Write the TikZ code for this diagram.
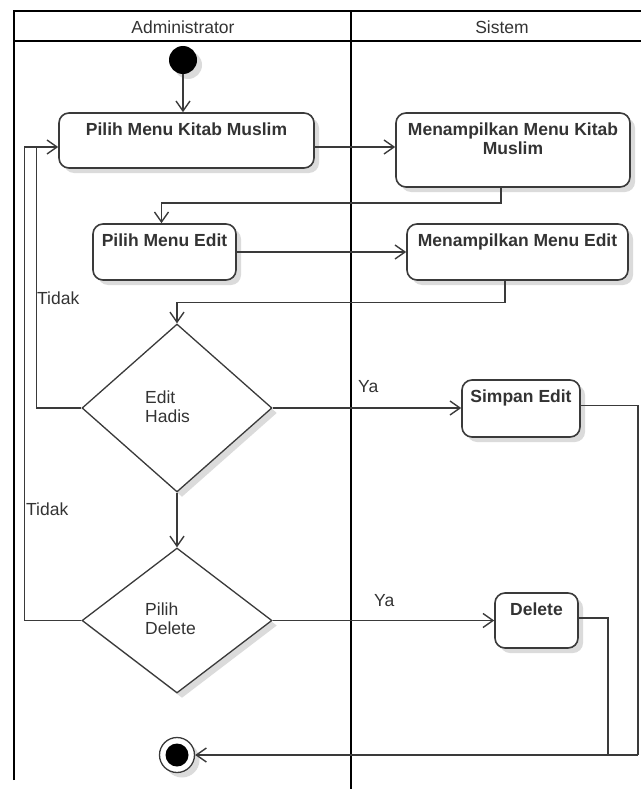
\documentclass[tikz,border=0pt]{standalone}
\usepackage{fontspec}
\setmainfont{Liberation Sans}
\usetikzlibrary{arrows.meta,shapes.geometric,shadows,calc}
\definecolor{ink}{HTML}{3A3A3A}
\definecolor{txt}{HTML}{333333}
\begin{document}
\begin{tikzpicture}[x=1pt,y=-1pt,
  frame/.style={line width=2.4pt, draw=black},
  softshadow/.style={drop shadow={shadow xshift=5pt, shadow yshift=-5pt, fill=black!14, opacity=1}},
  actbox/.style={draw=ink, line width=1.6pt, rounded corners=10pt, fill=white, softshadow, inner sep=0pt},
  choice/.style={diamond, draw=ink, line width=1.3pt, fill=white, softshadow, inner sep=0pt},
  acttext/.style={font=\fontsize{17.5}{19}\selectfont\bfseries, text=txt, inner sep=0pt, anchor=north, align=center},
  plain/.style={font=\fontsize{17.5}{19}\selectfont, text=txt, inner sep=0pt},
  flow/.style={draw=ink, line width=1.4pt, -{Straight Barb[length=10pt,width=14pt]}},
  link/.style={draw=ink, line width=1.4pt},
]
\useasboundingbox (0,0) rectangle (641,789);

% swimlane frame
\draw[frame] (14,780) -- (14,11) -- (641,11);
\draw[frame] (14,41) -- (641,41);
\draw[frame] (351,11) -- (351,789);
\node[plain, anchor=base] (lane1) at (183,34) {Administrator};
\node[plain, anchor=base] (lane2) at (502,34) {Sistem};

% start and end
\node[circle, fill=black, minimum size=28pt, inner sep=0pt, softshadow] (start) at (183,60) {};
\node[circle, draw=ink, line width=1.3pt, fill=white, minimum size=35pt, inner sep=0pt, softshadow] (fin) at (177,755) {};
\fill[black] (fin.center) circle (11.5pt);

% activities
\node[actbox, minimum width=255pt, minimum height=55pt] (A) at (186.5,140.5) {};
\node[acttext] (At) at ([yshift=-10.5pt]A.north) {Pilih Menu Kitab Muslim};
\node[actbox, minimum width=234pt, minimum height=74pt] (B) at (513,150) {};
\node[acttext] (Bt) at ([yshift=-10.5pt]B.north) {Menampilkan Menu Kitab\\Muslim};
\node[actbox, minimum width=143pt, minimum height=56pt] (C) at (164.5,252) {};
\node[acttext] (Ct) at ([yshift=-10.5pt]C.north) {Pilih Menu Edit};
\node[actbox, minimum width=221pt, minimum height=56pt] (D) at (517.5,252) {};
\node[acttext] (Dt) at ([yshift=-10.5pt]D.north) {Menampilkan Menu Edit};
\node[actbox, minimum width=118pt, minimum height=57pt] (E) at (521,408.5) {};
\node[acttext] (Et) at ([yshift=-10.5pt]E.north) {Simpan Edit};
\node[actbox, minimum width=83pt, minimum height=55pt] (F) at (536.5,620.5) {};
\node[acttext] (Ft) at ([yshift=-10.5pt]F.north) {Delete};

% decisions
\node[choice, minimum width=190pt, minimum height=168pt] (d1) at (177,408) {};
\node[plain, anchor=north west, align=left] (d1t) at (145,390.5) {Edit\\Hadis};
\node[choice, minimum width=190pt, minimum height=145pt] (d2) at (177,620.5) {};
\node[plain, anchor=north west, align=left] (d2t) at (145,603) {Pilih\\Delete};

% junction points of the return lines
\coordinate (aIn) at ([yshift=-6.5pt]A.west);
\coordinate (rr) at (638,755);
\coordinate (jn) at (608,755);

% flows
\draw[flow] (start) -- (start |- A.north);
\draw[flow] ([yshift=-6.5pt]A.east) -- ([yshift=-6.5pt]A.east -| B.west);
\draw[flow] ([xshift=-12pt]B.south) -- ++(0,15) -| ([xshift=-3pt]C.north);
\draw[flow] (C.east) -- (D.west);
\draw[flow] ([xshift=-12.5pt]D.south) -- ++(0,21.5) -| (d1.north);
\draw[flow] (d1.east) -- (d1.east -| E.west);
\draw[flow] (d1.south) -- (d2.north);
\draw[flow] (d2.east) -- (d2.east -| F.west);
\draw[flow] (d1.west) -| ([xshift=-22pt]aIn) -- (aIn);
\draw[link] (d2.west) -| ([xshift=-34pt]aIn) -- ([xshift=-22pt]aIn);
\draw[link] ([yshift=3pt]E.east) -| (rr);
\draw[link] ([yshift=2.5pt]F.east) -| (jn);
\draw[flow] (rr) -- (fin.east);

% guard labels
\node[plain, anchor=base west] (g1) at (37,304) {Tidak};
\node[plain, anchor=base west] (g2) at (26,515.5) {Tidak};
\node[plain, anchor=base west] (g3) at (358,392.5) {Ya};
\node[plain, anchor=base west] (g4) at (374,606) {Ya};
\end{tikzpicture}
\end{document}
